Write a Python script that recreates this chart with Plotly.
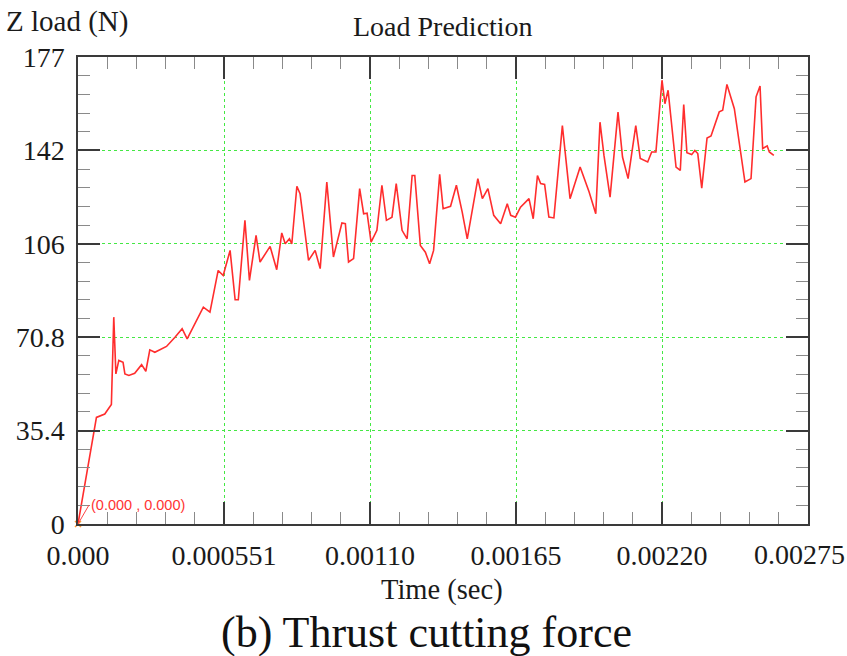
import plotly.graph_objects as go

time_s = [0, 0.0000696, 0.000101, 0.000126, 0.000135, 0.000143, 0.000154, 0.000170, 0.000177,
          0.000192, 0.000214, 0.000240, 0.000256, 0.000271, 0.000290, 0.000334, 0.000366, 0.000393,
          0.000412, 0.000441, 0.000473, 0.000498, 0.000529, 0.000548, 0.000574, 0.000593, 0.000605,
          0.000630, 0.000647, 0.000672, 0.000687, 0.000725, 0.000750, 0.000769, 0.000782, 0.000798,
          0.000807, 0.000826, 0.000838, 0.000870, 0.000895, 0.000914, 0.000939, 0.000964, 0.000996,
          0.001009, 0.001021, 0.001040, 0.001063, 0.001078, 0.001091, 0.001106, 0.001128, 0.001147,
          0.001164, 0.001185, 0.001201, 0.001223, 0.001242, 0.001261, 0.001271, 0.001292, 0.001311,
          0.001327, 0.001342, 0.001365, 0.001378, 0.001406, 0.001428, 0.001450, 0.001469, 0.001509,
          0.001526, 0.001547, 0.001569, 0.001595, 0.001620, 0.001633, 0.001651, 0.001670, 0.001702,
          0.001718, 0.001734, 0.001746, 0.001761, 0.001777, 0.001796, 0.001828, 0.001857, 0.001895,
          0.001929, 0.001954, 0.001970, 0.001985, 0.002008, 0.002038, 0.002055, 0.002076, 0.002105,
          0.002122, 0.002150, 0.002165, 0.002181, 0.002204, 0.002215, 0.002227, 0.002257, 0.002273,
          0.002286, 0.002298, 0.002316, 0.002328, 0.002339, 0.002354, 0.002374, 0.002389, 0.002420,
          0.002433, 0.002449, 0.002477, 0.002517, 0.002540, 0.002559, 0.002574, 0.002584, 0.002601,
          0.002609, 0.002626]

z_load = [0, 40.4, 41.7, 45.3, 78.4, 56.9, 62.0, 61.3, 56.9,
          56.3, 57.1, 60.4, 57.9, 66.0, 65.1, 67.3, 70.8, 74.0,
          70.2, 75.9, 82.2, 80.3, 96.1, 94.2, 103.7, 85.0, 85.0,
          115.1, 92.3, 109.4, 99.3, 105.2, 96.4, 110.3, 106.2, 108.1,
          106.2, 128.0, 125.2, 99.9, 103.7, 96.8, 129.6, 101.2, 114.1,
          113.8, 99.3, 100.6, 127.1, 117.6, 117.8, 106.8, 111.3, 128.4,
          115.1, 116.3, 129.0, 111.3, 108.1, 132.1, 132.1, 105.6, 103.0,
          98.6, 103.7, 132.5, 119.5, 120.4, 128.4, 118.2, 108.1, 130.9,
          123.3, 127.1, 117.0, 113.8, 121.4, 117.0, 116.3, 120.1, 123.3,
          115.7, 132.1, 129.0, 128.7, 116.3, 116.0, 151.0, 123.3, 135.3,
          125.8, 117.6, 152.3, 139.7, 123.9, 156.1, 139.1, 130.9, 151.0,
          138.5, 137.2, 141.0, 141.0, 168.2, 159.3, 164.4, 135.3, 134.0,
          159.0, 140.7, 140.0, 141.6, 140.4, 127.3, 146.3, 147.1, 156.2,
          156.8, 166.6, 157.4, 129.6, 130.9, 161.9, 166.0, 142.3, 143.3,
          141.0, 139.7]

x_tickvals = [0, 0.000551, 0.001102, 0.001653, 0.002204, 0.002755]
x_ticktext = ["0.000", "0.000551", "0.00110", "0.00165", "0.00220", "0.00275"]
y_tickvals = [0, 35.4, 70.8, 106.2, 141.6, 176.99]
y_ticktext = ["0", "35.4", "70.8", "106", "142", "177"]

SERIF = "Liberation Serif, Times New Roman, serif"
AX = "#3a3a3a"
TXT = "#1a1a1a"

fig = go.Figure()
fig.add_trace(go.Scatter(x=time_s, y=z_load, mode="lines",
                         line=dict(color="#ff2d2d", width=1.6), showlegend=False))
fig.add_trace(go.Scatter(x=time_s[:1], y=z_load[:1], mode="markers",
                         marker=dict(symbol="x-thin", size=6, line=dict(color="#ff9933", width=1.5)),
                         showlegend=False, cliponaxis=False))

common = dict(showline=True, linecolor=AX, linewidth=1.5, mirror="ticks",
              ticks="inside", ticklen=22, tickwidth=1.5, tickcolor=AX,
              showgrid=True, gridcolor="#44e844", griddash="dot", gridwidth=1,
              zeroline=False, tickfont=dict(family=SERIF, size=28, color=TXT))

# last x label is drawn separately (shifted left so it fits inside the page)
fig.update_xaxes(range=[0, 0.002755], tickvals=x_tickvals[:-1], ticktext=x_ticktext[:-1],
                 minor=dict(ticks="inside", ticklen=12, tickcolor="#8a8a8a", tickwidth=1.2,
                            dtick=0.0001102, tick0=0, showgrid=False),
                 ticklabelstandoff=6, **common)
fig.update_yaxes(range=[0, 177], tickvals=y_tickvals, ticktext=y_ticktext,
                 minor=dict(ticks="inside", ticklen=12, tickcolor="#8a8a8a", tickwidth=1.2,
                            dtick=7.08, tick0=0, showgrid=False),
                 ticklabelstandoff=6, **common)

fig.add_annotation(text=x_ticktext[-1], x=x_tickvals[-1], xref="x", yref="paper", y=-0.066,
                   xshift=-9, showarrow=False, yanchor="middle",
                   font=dict(family=SERIF, size=28, color=TXT))
fig.add_annotation(text="Load Prediction", xref="paper", yref="paper", x=0.5, y=1.066,
                   showarrow=False, yanchor="middle", font=dict(family=SERIF, size=28, color=TXT))
fig.add_annotation(text="Z load (N)", xref="paper", yref="paper", x=-0.101, y=1.075,
                   showarrow=False, xanchor="left", yanchor="middle",
                   font=dict(family=SERIF, size=29, color=TXT))
fig.add_annotation(text="Time (sec)", xref="paper", yref="paper", x=0.499, y=-0.141,
                   showarrow=False, yanchor="middle", font=dict(family=SERIF, size=28.5, color=TXT))
fig.add_annotation(text="(b) Thrust cutting force", xref="paper", yref="paper", x=0.478, y=-0.233,
                   showarrow=False, yanchor="middle", font=dict(family=SERIF, size=44, color="#111111"))
fig.add_annotation(text="(0.000 , 0.000)", x=time_s[0], y=z_load[0], xref="x", yref="y",
                   showarrow=True, arrowhead=0, arrowwidth=1, arrowcolor="#ff4444",
                   ax=11, ay=-19, xanchor="left", yanchor="middle",
                   font=dict(family="Liberation Sans, Arial, sans-serif", size=14.5, color="#ff3333"))

fig.update_layout(width=847, height=656, margin=dict(l=78, r=39, t=57, b=132),
                  paper_bgcolor="white", plot_bgcolor="white")

fig.write_html("out.html")
